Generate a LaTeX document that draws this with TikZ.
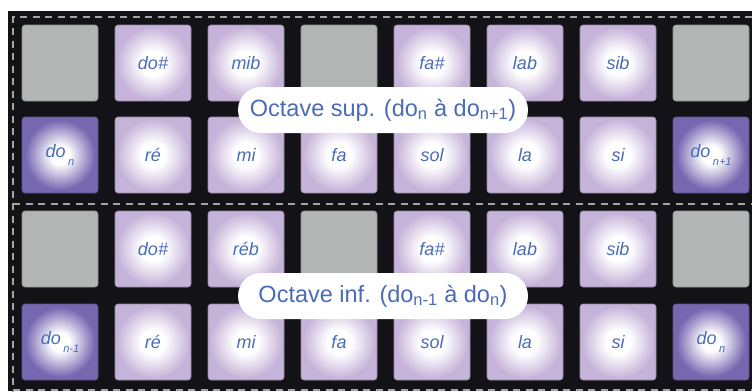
\documentclass[tikz,border=0pt]{standalone}
\usepackage{xcolor}
\usepackage{fontspec}
\usepackage{tikz}
\setmainfont{Liberation Sans}
\usetikzlibrary{calc}

\definecolor{bgdark}{HTML}{131317}
\definecolor{padlight}{HTML}{C6B3D9}
\definecolor{paddark}{HTML}{7767B1}
\definecolor{padgray}{HTML}{B1B5B4}
\definecolor{notecol}{HTML}{4A6CB8}
\definecolor{dashcol}{HTML}{A4A4A8}

\pgfdeclareradialshading{lightglow}{\pgfpointorigin}{color(0bp)=(white); color(8bp)=(white); color(24bp)=(padlight); color(50bp)=(padlight)}
\pgfdeclareradialshading{darkglow}{\pgfpointorigin}{color(0bp)=(white); color(6bp)=(white); color(23bp)=(paddark); color(50bp)=(paddark)}

\tikzstyle{every node}=[font=\fontsize{18}{20}\selectfont\itshape, text=notecol]
\tikzstyle{padbase}=[minimum size=76pt, inner sep=0pt, rounded corners=3pt, line width=0.6pt]
\tikzstyle{pad}=[padbase, draw=padlight!75!black, shading=lightglow]
\tikzstyle{root}=[padbase, draw=paddark!80!black, shading=darkglow]
\tikzstyle{off}=[padbase, draw=padgray!80!black, fill=padgray]
\tikzstyle{bubble}=[fill=white, rounded corners=23pt, minimum width=290pt, minimum height=46pt, inner sep=0pt, font=\fontsize{23.5}{28}\selectfont]
\tikzstyle{octave}=[dashcol, line width=1.2pt, dash pattern=on 7pt off 5.5pt]

\newcommand{\padidx}[1]{\kern2.5pt\raisebox{-0.8ex}{\fontsize{11}{11}\selectfont #1}}

\begin{document}
\begin{tikzpicture}[x=1pt, y=-1pt]
                \useasboundingbox (0, 0) rectangle (752, 391);
                \fill [bgdark] (8, 11) rectangle (752, 391);

                % upper octave
                \node[off]  (a1) at (60, 63) {};
                \node[pad]  (a2) at (153, 63) {do\#};
                \node[pad]  (a3) at (246, 63) {mib};
                \node[off]  (a4) at (339, 63) {};
                \node[pad]  (a5) at (432, 63) {fa\#};
                \node[pad]  (a6) at (525, 63) {lab};
                \node[pad]  (a7) at (618, 63) {sib};
                \node[off]  (a8) at (711, 63) {};

                \node[root] (b1) at (60, 155) {do\padidx{n}};
                \node[pad]  (b2) at (153, 155) {ré};
                \node[pad]  (b3) at (246, 155) {mi};
                \node[pad]  (b4) at (339, 155) {fa};
                \node[pad]  (b5) at (432, 155) {sol};
                \node[pad]  (b6) at (525, 155) {la};
                \node[pad]  (b7) at (618, 155) {si};
                \node[root] (b8) at (711, 155) {do\padidx{n+1}};

                % lower octave
                \node[off]  (c1) at (60, 249) {};
                \node[pad]  (c2) at (153, 249) {do\#};
                \node[pad]  (c3) at (246, 249) {réb};
                \node[off]  (c4) at (339, 249) {};
                \node[pad]  (c5) at (432, 249) {fa\#};
                \node[pad]  (c6) at (525, 249) {lab};
                \node[pad]  (c7) at (618, 249) {sib};
                \node[off]  (c8) at (711, 249) {};

                \node[root] (d1) at (60, 342) {do\padidx{n-1}};
                \node[pad]  (d2) at (153, 342) {ré};
                \node[pad]  (d3) at (246, 342) {mi};
                \node[pad]  (d4) at (339, 342) {fa};
                \node[pad]  (d5) at (432, 342) {sol};
                \node[pad]  (d6) at (525, 342) {la};
                \node[pad]  (d7) at (618, 342) {si};
                \node[root] (d8) at (711, 342) {do\padidx{n}};

                \draw [octave] (752, 17) -- (13, 17) -- (13, 391);
                \draw [octave] (13, 204) -- (752, 204);
                \draw [octave] (13, 390) -- (752, 390);

                \node[bubble] (sup) at (383, 110) {Octave sup. (do\textsubscript{n} à do\textsubscript{n+1})};
                \node[bubble] (inf) at (383, 296) {Octave inf. (do\textsubscript{n-1} à do\textsubscript{n})};
            \end{tikzpicture}
\end{document}
